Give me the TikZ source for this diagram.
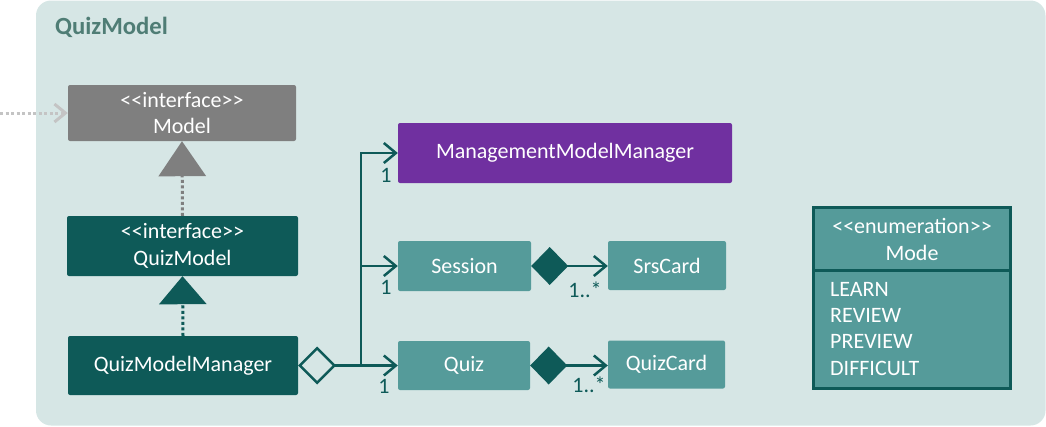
\documentclass[tikz,border=0pt]{standalone}
\usepackage{fontspec}
\setmainfont{Carlito}
\usetikzlibrary{arrows.meta}
\definecolor{bgc}{RGB}{214,230,229}
\definecolor{titlec}{RGB}{79,125,117}
\definecolor{darkteal}{RGB}{14,90,88}
\definecolor{midteal}{RGB}{85,155,154}
\definecolor{grayc}{RGB}{127,127,127}
\definecolor{purplec}{RGB}{112,48,160}
\definecolor{lightg}{RGB}{196,196,196}
\newcommand{\guil}[1]{<\kern0pt<#1>\kern0pt>}
\begin{document}
\begin{tikzpicture}[x=1pt,y=-1pt,
  box/.style={rectangle, rounded corners=2pt, inner sep=0pt, text=white,
    font=\fontsize{22}{26.3}\selectfont, align=center},
  lab/.style={inner sep=0pt, text=darkteal, font=\fontsize{22}{26}\selectfont},
  conn/.style={draw=darkteal, line width=2.5pt},
  barb/.style={-{Straight Barb[length=12pt,width=20pt]}},
  realize/.style={line width=3pt, dash pattern=on 3pt off 2.5pt}
]
\useasboundingbox (0,0) rectangle (1046,426);
\fill[bgc, rounded corners=15pt] (36,0.5) rectangle (1045.5,425.5);
\node[anchor=west, inner sep=0pt, text=titlec, font=\fontsize{24.7}{28}\selectfont\bfseries] (title) at (55,27) {QuizModel};

\node[box, fill=grayc, minimum width=228pt, minimum height=56pt] (model) at (182,113) {\guil{interface}\\Model};
\node[box, fill=darkteal, minimum width=231pt, minimum height=60pt] (qm) at (182.5,246) {\guil{interface}\\QuizModel};
\node[box, fill=darkteal, minimum width=230pt, minimum height=59pt] (qmm) at (183,365.5) {QuizModelManager};
\node[box, fill=purplec, minimum width=334pt, minimum height=60pt] (mmm) at (565,153) {ManagementModelManager};
\node[box, fill=midteal, minimum width=133pt, minimum height=50pt] (session) at (464.5,266) {Session};
\node[box, fill=midteal, minimum width=118pt, minimum height=49pt] (srs) at (667,265.5) {SrsCard};
\node[box, fill=midteal, minimum width=132pt, minimum height=49pt] (quiz) at (464,365.5) {Quiz};
\node[box, fill=midteal, minimum width=117pt, minimum height=48pt] (quizcard) at (666.5,364.5) {QuizCard};

% enumeration Mode
\node[rectangle, fill=midteal, draw=darkteal, line width=3pt, minimum width=197pt, minimum height=181pt, inner sep=0pt] (mode) at (912,298) {};
\draw[darkteal, line width=3pt] (mode.west |- 0,270) -- (mode.east |- 0,270);
\node[box] (modehead) at (912,239.5) {\guil{enumeration}\\Mode};
\node[box, align=left, anchor=north west] (modeitems) at (830,282) {LEARN\\REVIEW\\PREVIEW\\DIFFICULT};

% external dependency
\coordinate (ext) at (0,113);
\draw[lightg, realize, -{Straight Barb[length=11pt,width=18pt]}] (ext) -- (model.west);

% realizations
\draw[grayc, realize, -{Triangle[length=35pt,width=47pt]}] (qm.north) -- (model.south);
\draw[darkteal, realize, -{Triangle[length=28pt,width=47pt]}] (qmm.north) -- (qm.south);

% associations
\coordinate (j) at (361,365.5);
\draw[conn, {Diamond[open,length=38pt,width=38pt]}-{Straight Barb[length=12pt,width=20pt]}] (qmm.east) -- (quiz.west);
\draw[conn, barb] (j) |- (session.west);
\draw[conn, barb] (j) |- (mmm.west);
\draw[conn, {Diamond[length=37pt,width=38pt]}-{Straight Barb[length=12pt,width=20pt]}] (session.east) -- (session.east -| srs.west);
\draw[conn, {Diamond[length=37pt,width=38pt]}-{Straight Barb[length=12pt,width=20pt]}] (quiz.east) -- (quiz.east -| quizcard.west);

\node[lab] (l1) at (386,175) {1};
\node[lab] (l2) at (386,287) {1};
\node[lab] (l3) at (384,386) {1};
\node[lab] (l4) at (585,290) {1..*};
\node[lab] (l5) at (589,385) {1..*};
\end{tikzpicture}
\end{document}
